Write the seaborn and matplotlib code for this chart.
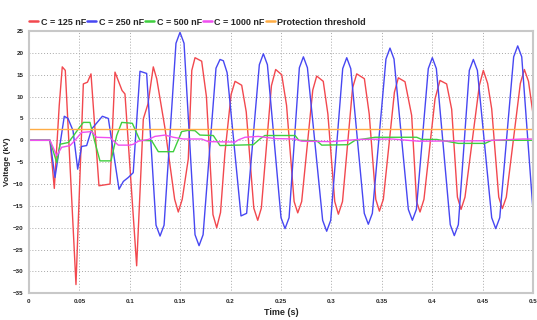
import pandas as pd
import matplotlib.pyplot as plt
import seaborn as sns
import numpy as np

# Values (time in s, voltage in kV)
t_125 = [0, 0.0208, 0.0251, 0.030, 0.033, 0.036, 0.0466, 0.0539, 0.058, 0.0615, 0.0694, 0.0804,
         0.0853, 0.0923, 0.0952, 0.1068, 0.1134, 0.118, 0.1233, 0.1267, 0.135, 0.1445, 0.1481,
         0.152, 0.158, 0.1615, 0.1647, 0.1713, 0.176, 0.1825, 0.1862, 0.190, 0.1944, 0.2005,
         0.2044, 0.211, 0.2155, 0.223, 0.2269, 0.2305, 0.2405, 0.2447, 0.2507, 0.2555, 0.263,
         0.2666, 0.2705, 0.2815, 0.2854, 0.2919, 0.2965, 0.3033, 0.3069, 0.311, 0.321, 0.3251,
         0.3327, 0.3375, 0.344, 0.3476, 0.3515, 0.3625, 0.3664, 0.373, 0.3796, 0.3845, 0.3879,
         0.3918, 0.4028, 0.4077, 0.4143, 0.4193, 0.425, 0.4286, 0.4325, 0.4467, 0.4507, 0.455,
         0.459, 0.466, 0.4696, 0.4735, 0.4874, 0.4914, 0.4955, 0.5]
v_125 = [0, 0, -11.0, 8.0, 16.8, 16.0, -33.0, 12.9, 13.3, 15.2, -10.4, -10.0,
         15.6, 11.4, 10.6, -28.7, 4.9, 8.3, 16.8, 14.1, 2.6, -13.5, -16.4,
         -13.5, -4.3, 16.0, 18.9, 18.1, 10.0, -17.0, -20.0, -16.5, -2.8, 10.5,
         13.5, 12.6, 6.5, -15.5, -18.3, -15.5, 12.5, 16.2, 15.0, 8.0, -14.0,
         -16.6, -14.0, 11.5, 14.7, 13.5, 6.0, -14.0, -16.9, -14.0, 12.0, 15.2,
         14.1, 6.0, -13.5, -16.2, -13.5, 11.0, 14.3, 13.4, 5.7, -14.0, -16.4,
         -13.5, 9.5, 13.7, 12.9, 7.1, -13.0, -15.8, -13.0, 12.5, 16.0, 13.0,
         7.2, -13.0, -15.6, -13.0, 13.0, 16.2, 13.5, 6.0]

t_250 = [0, 0.0208, 0.0258, 0.035, 0.0387, 0.0437, 0.0483, 0.0522, 0.0572, 0.0622, 0.0728, 0.0787,
         0.0893, 0.0936, 0.0985, 0.1034, 0.1101, 0.1167, 0.126, 0.130, 0.134, 0.1458, 0.1498,
         0.1538, 0.1647, 0.1687, 0.1727, 0.1855, 0.1895, 0.1928, 0.1965, 0.2103, 0.2159, 0.2285,
         0.2325, 0.2365, 0.250, 0.254, 0.258, 0.2682, 0.2722, 0.2762, 0.2913, 0.2953, 0.2993,
         0.3112, 0.3152, 0.3192, 0.3326, 0.3366, 0.3406, 0.3541, 0.3581, 0.3621, 0.3763, 0.3803,
         0.3843, 0.3961, 0.4001, 0.4041, 0.4179, 0.4219, 0.4259, 0.4368, 0.4408, 0.4448, 0.459,
         0.463, 0.467, 0.4808, 0.4848, 0.4888, 0.5]
v_250 = [0, 0, -8.5, 5.5, 5.0, 2.2, -6.6, -1.4, -1.2, 2.6, 5.5, 5.0,
         -11.2, -9.4, -8.5, -7.4, 15.8, 15.3, -19.4, -21.9, -19.4, 22.2, 24.7,
         22.2, -21.6, -24.1, -21.6, 16.5, 18.5, 18.2, 15.5, -17.3, -16.7, 17.3,
         19.8, 17.3, -17.7, -20.2, -17.7, 16.6, 19.1, 16.6, -18.3, -20.8, -18.3,
         16.4, 18.9, 16.4, -16.7, -19.2, -16.7, 18.6, 21.1, 18.6, -15.8, -18.3,
         -15.8, 16.4, 18.9, 16.4, -19.3, -21.8, -19.3, 16.0, 18.5, 16.0, -17.7,
         -20.2, -17.7, 19.1, 21.6, 19.1, -16.2]

t_500 = [0, 0.0208, 0.0275, 0.0308, 0.039, 0.044, 0.049, 0.0539, 0.0605, 0.0655, 0.0704, 0.0813,
         0.087, 0.092, 0.1025, 0.110, 0.1217, 0.1283, 0.1432, 0.1515, 0.1581, 0.1647, 0.1696,
         0.1828, 0.1895, 0.2225, 0.229, 0.234, 0.264, 0.2676, 0.2854, 0.2904, 0.3168, 0.3234,
         0.3433, 0.3846, 0.3896, 0.4045, 0.4259, 0.4524, 0.459, 0.5]
v_500 = [0, 0, -5.1, -0.9, -0.5, 1.0, 2.6, 4.1, 4.1, -0.5, -4.7, -4.7,
         1.1, 4.1, 3.9, 0.0, -0.1, -2.6, -2.6, 2.0, 2.3, 2.2, 1.2,
         1.1, -1.2, -1.0, 0.3, 1.1, 1.1, 0.0, -0.1, -1.1, -1.0, 0.0,
         0.7, 0.7, 0.2, 0.2, -0.7, -0.7, 0.0, 0.0]

t_1000 = [0, 0.0208, 0.0275, 0.0324, 0.0407, 0.0456, 0.0522, 0.0622, 0.0671, 0.0804, 0.0886, 0.1002,
          0.1035, 0.1085, 0.1184, 0.125, 0.1349, 0.1432, 0.1531, 0.1713, 0.178, 0.2044, 0.2077,
          0.2143, 0.2275, 0.2441, 0.2639, 0.2705, 0.300, 0.3267, 0.360, 0.3866, 0.450, 0.490, 0.5]
v_1000 = [0, 0, -3.5, -1.6, -1.2, 0.0, 1.8, 2.0, 0.7, 0.6, -1.1, -1.1,
          -0.9, -0.2, 0.2, 0.9, 1.2, 0.7, 0.3, 0.3, -0.3, -0.4, 0.1,
          0.7, 0.9, 0.4, 0.3, -0.2, -0.3, 0.2, 0.3, -0.2, -0.1, 0.3, 0.3]

threshold = 2.5
labels = ['C = 125 nF', 'C = 250 nF', 'C = 500 nF', 'C = 1000 nF', 'Protection threshold']
colors = ['#f2484e', '#4747f2', '#3fcf3f', '#f04ff0', '#ffad45']

frames = []
for lab, t, v in zip(labels[:4], [t_125, t_250, t_500, t_1000], [v_125, v_250, v_500, v_1000]):
    frames.append(pd.DataFrame({'Time': t, 'Voltage': v, 'Series': lab}))
frames.append(pd.DataFrame({'Time': [0, 0.5], 'Voltage': [threshold, threshold], 'Series': labels[4]}))
df = pd.concat(frames, ignore_index=True)

sns.set_style('white')
plt.rcParams['font.family'] = ['Liberation Sans Narrow', 'Liberation Sans', 'DejaVu Sans']

fig = plt.figure(figsize=(5.37, 3.2), dpi=100)
ax = fig.add_axes([0.054, 0.0834, 0.9386, 0.8196])

sns.lineplot(data=df, x='Time', y='Voltage', hue='Series', hue_order=labels,
             palette=colors, linewidth=1.0, ax=ax, sort=False, estimator=None)

ax.set_xlim(0, 0.5)
ax.set_ylim(-35, 25)
ax.set_xticks(np.arange(0, 0.51, 0.05))
ax.set_xticklabels(['0', '0.05', '0.1', '0.15', '0.2', '0.25', '0.3', '0.35', '0.4', '0.45', '0.5'])
ax.set_yticks(np.arange(-35, 26, 5))
ax.tick_params(labelsize=4.5, length=0, pad=4)
for lbl in ax.get_xticklabels() + ax.get_yticklabels():
    lbl.set_fontweight('bold')
ax.grid(True, linestyle=(0, (1, 2)), color='#a8a8a8', linewidth=0.7)
for s in ax.spines.values():
    s.set_color('#c8c8c8')
    s.set_linewidth(1.5)

ax.set_xlabel('Time (s)', fontsize=6.5, fontweight='bold', labelpad=3)
ax.set_ylabel('Voltage (kV)', fontsize=6, fontweight='bold', labelpad=1.5)

leg = ax.legend(loc='lower left', bbox_to_anchor=(-0.003, 1.01), ncol=5, frameon=False,
                handlelength=1.0, handletextpad=0.3, columnspacing=0.1,
                borderaxespad=0, borderpad=0.2, prop={'weight': 'bold', 'size': 6.5})
for h in leg.get_lines():
    h.set_linewidth(1.8)

fig.savefig('out.png', dpi=100, facecolor='white')
